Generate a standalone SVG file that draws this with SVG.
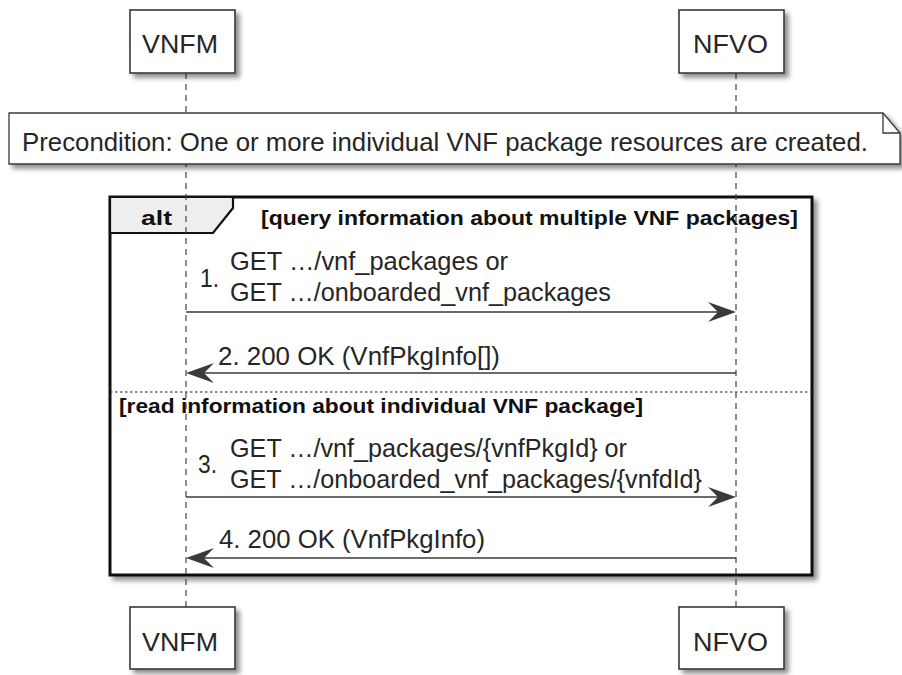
<svg xmlns="http://www.w3.org/2000/svg" width="902" height="675" viewBox="0 0 902 675">
<style>
.box{fill:#fff;stroke:#3a3a3a;stroke-width:1.6}
.lbl{font-family:"Liberation Sans",Arial,sans-serif;font-size:26px;fill:#262626}
.msg{font-family:"Liberation Sans",Arial,sans-serif;font-size:25px;fill:#262626}
.bold{font-family:"Liberation Sans",Arial,sans-serif;font-size:21px;font-weight:bold;fill:#111}
.life{stroke:#444;stroke-width:1.2;stroke-dasharray:6,5;fill:none}
.arr{stroke:#3a3a3a;stroke-width:1.3;fill:none}
.head{fill:#3a3a3a}
</style>
<defs>
<filter id="sh" x="-10%" y="-10%" width="130%" height="140%">
<feGaussianBlur in="SourceAlpha" stdDeviation="2.5"/>
<feOffset dx="4" dy="4" result="o"/>
<feComponentTransfer><feFuncA type="linear" slope="0.45"/></feComponentTransfer>
<feMerge><feMergeNode/><feMergeNode in="SourceGraphic"/></feMerge>
</filter>
</defs>
<rect width="902" height="675" fill="#fff"/>

<g id="alt-frame">
<rect x="110" y="197" width="702" height="378" fill="#fff" stroke="#111" stroke-width="3" filter="url(#sh)"/>
<path d="M110,197 L233,197 L233,208 L213,233 L110,233 Z" fill="#eeeeee" stroke="#111" stroke-width="2.2"/>
<text class="bold" x="141" y="225" textLength="31" lengthAdjust="spacingAndGlyphs">alt</text>
<text class="bold" x="261" y="225" textLength="537" lengthAdjust="spacingAndGlyphs">[query information about multiple VNF packages]</text>
<line x1="110" y1="392" x2="812" y2="392" stroke="#222" stroke-width="1.2" stroke-dasharray="2.5,2.5"/>
<text class="bold" x="119" y="413" textLength="524" lengthAdjust="spacingAndGlyphs">[read information about individual VNF package]</text>
</g>

<g id="lifelines">
<line class="life" x1="186" y1="73" x2="186" y2="607"/>
<line class="life" x1="736" y1="73" x2="736" y2="607"/>
</g>

<g id="note">
<path d="M9,113 L883,113 L900,133 L900,164 L9,164 Z" fill="#fff" stroke="#3a3a3a" stroke-width="1.3" filter="url(#sh)"/>
<path d="M883,113 L883,133 L900,133" fill="none" stroke="#3a3a3a" stroke-width="1.3"/>
<text class="msg" x="22" y="151" textLength="846" lengthAdjust="spacingAndGlyphs">Precondition: One or more individual VNF package resources are created.</text>
</g>

<g id="VNFM-top">
<rect class="box" x="130" y="10" width="105" height="63" filter="url(#sh)"/>
<text class="lbl" x="142" y="53" textLength="76" lengthAdjust="spacingAndGlyphs">VNFM</text>
</g>
<g id="NFVO-top">
<rect class="box" x="679" y="10" width="105" height="63" filter="url(#sh)"/>
<text class="lbl" x="693" y="53" textLength="75" lengthAdjust="spacingAndGlyphs">NFVO</text>
</g>
<g id="VNFM-bottom">
<rect class="box" x="130" y="607" width="105" height="62" filter="url(#sh)"/>
<text class="lbl" x="142" y="651" textLength="76" lengthAdjust="spacingAndGlyphs">VNFM</text>
</g>
<g id="NFVO-bottom">
<rect class="box" x="679" y="607" width="105" height="62" filter="url(#sh)"/>
<text class="lbl" x="693" y="651" textLength="75" lengthAdjust="spacingAndGlyphs">NFVO</text>
</g>

<g id="connectors">
<g id="msg1">
<line class="arr" x1="186" y1="312" x2="732" y2="312"/>
<polygon class="head" points="736,312 708,302 718,312 708,322"/>
<text class="msg" x="200" y="287" textLength="19" lengthAdjust="spacingAndGlyphs">1.</text>
<text class="msg" x="230" y="270" textLength="278" lengthAdjust="spacingAndGlyphs">GET …/vnf_packages or</text>
<text class="msg" x="230" y="301" textLength="381" lengthAdjust="spacingAndGlyphs">GET …/onboarded_vnf_packages</text>
</g>
<g id="msg2">
<line class="arr" x1="190" y1="373" x2="736" y2="373"/>
<polygon class="head" points="186,373 214,363 204,373 214,383"/>
<text class="msg" x="218" y="365" textLength="282" lengthAdjust="spacingAndGlyphs">2. 200 OK (VnfPkgInfo[])</text>
</g>
<g id="msg3">
<line class="arr" x1="186" y1="497" x2="732" y2="497"/>
<polygon class="head" points="736,497 708,487 718,497 708,507"/>
<text class="msg" x="198" y="473" textLength="19" lengthAdjust="spacingAndGlyphs">3.</text>
<text class="msg" x="230" y="457" textLength="397" lengthAdjust="spacingAndGlyphs">GET …/vnf_packages/{vnfPkgId} or</text>
<text class="msg" x="230" y="488" textLength="472" lengthAdjust="spacingAndGlyphs">GET …/onboarded_vnf_packages/{vnfdId}</text>
</g>
<g id="msg4">
<line class="arr" x1="190" y1="558" x2="736" y2="558"/>
<polygon class="head" points="186,558 214,548 204,558 214,568"/>
<text class="msg" x="219" y="548" textLength="266" lengthAdjust="spacingAndGlyphs">4. 200 OK (VnfPkgInfo)</text>
</g>
</g>
</svg>
